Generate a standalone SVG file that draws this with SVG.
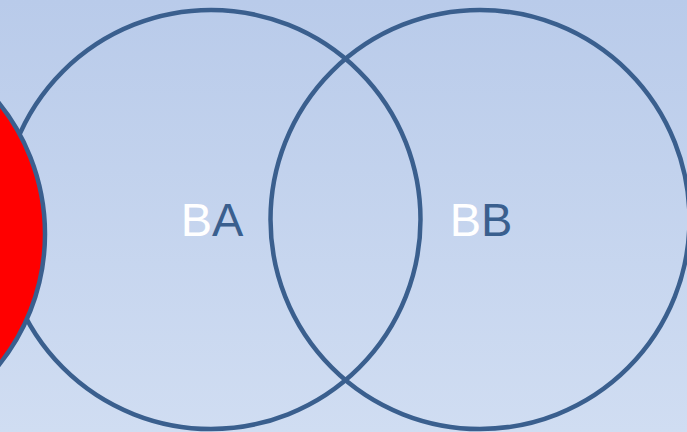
<svg xmlns="http://www.w3.org/2000/svg" width="687" height="432" viewBox="0 0 687 432">
<defs>
<linearGradient id="bg" x1="0" y1="0" x2="0" y2="1">
<stop offset="0" stop-color="#b9cbea"/>
<stop offset="1" stop-color="#d0ddf2"/>
</linearGradient>
</defs>
<style>
.ring{fill:none;stroke:#3a5f8e;stroke-width:4.5}
.lbl{font-family:"Liberation Sans",Arial,sans-serif;font-size:47px;text-anchor:middle}
.w{fill:#ffffff}
.b{fill:#3a5f8e}
</style>
<rect x="0" y="0" width="687" height="432" fill="url(#bg)"/>
<g id="circleBA">
<circle class="ring" cx="211" cy="219.5" r="209.5"/>
<text class="lbl" x="212" y="236"><tspan class="w">B</tspan><tspan class="b">A</tspan></text>
</g>
<g id="circleBB">
<circle class="ring" cx="480" cy="219.5" r="209.5"/>
<text class="lbl" x="481" y="236"><tspan class="w">B</tspan><tspan class="b">B</tspan></text>
</g>
<g id="redCircle">
<circle cx="-164" cy="234" r="209" fill="#ff0000" stroke="#3a5f8e" stroke-width="4.5"/>
</g>
<g id="connectors"></g>
</svg>
